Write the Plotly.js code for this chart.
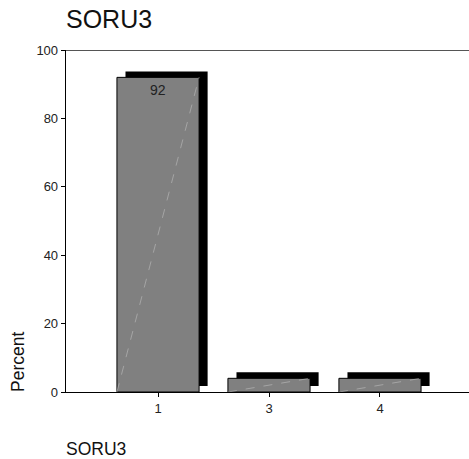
<!DOCTYPE html>
<html>
<head>
<meta charset="utf-8">
<script src="https://cdn.plot.ly/plotly-3.0.1.min.js"></script>
<style>
  html, body { margin: 0; padding: 0; background: #fff; }
  #chart { width: 469px; height: 459px; }
</style>
</head>
<body>
<div id="chart"></div>
<script>
// ---- data ----
const categories = ['1', '3', '4'];
const percents = [92, 4, 4];
const valueLabels = ['92', '', ''];
const yTicks = [0, 20, 40, 60, 80, 100];
const chartTitle = 'SORU3';
const xTitle = 'SORU3';
const yTitle = 'Percent';

// ---- styling ----
const FONT = 'Liberation Sans, Arial, sans-serif';
const barWidth = 0.74;
const depthX = 0.077;   // 3D depth offset along x (category units)
const depthY = 1.75;    // 3D depth offset along y (data units)

const positions = categories.map((c, i) => i);

const traces = [];
// back (shadow) faces
traces.push({
  type: 'bar',
  x: positions,
  y: percents,
  base: percents.map(() => depthY),
  width: barWidth,
  offset: -barWidth / 2 + depthX,
  marker: { color: '#000000', line: { width: 0 } },
  hoverinfo: 'skip',
  showlegend: false
});
// front faces
traces.push({
  type: 'bar',
  x: positions,
  y: percents,
  width: barWidth,
  offset: -barWidth / 2,
  marker: { color: '#808080', line: { color: '#000000', width: 1 } },
  hoverinfo: 'skip',
  showlegend: false
});
// faint diagonal rendering lines on the front faces
positions.forEach((p, i) => {
  traces.push({
    type: 'scatter',
    mode: 'lines',
    x: [p - barWidth / 2, p + barWidth / 2],
    y: [0, percents[i]],
    line: { color: '#b4b4b4', width: 0.7, dash: 'dash' },
    hoverinfo: 'skip',
    showlegend: false
  });
});

const annotations = [];
positions.forEach((p, i) => {
  if (valueLabels[i]) {
    annotations.push({
      x: p, y: percents[i], xref: 'x', yref: 'y',
      text: valueLabels[i], showarrow: false,
      yanchor: 'top', yshift: -3,
      font: { family: FONT, size: 14, color: '#222' }
    });
  }
});
// chart title
annotations.push({
  xref: 'paper', yref: 'paper', x: 0, y: 1,
  xanchor: 'left', yanchor: 'bottom', xshift: -2, yshift: 15,
  text: chartTitle, showarrow: false,
  font: { family: FONT, size: 25, color: '#111' }
});
// x title
annotations.push({
  xref: 'paper', yref: 'paper', x: 0, y: -0.168,
  xanchor: 'left', yanchor: 'middle', xshift: -2,
  text: xTitle, showarrow: false,
  font: { family: FONT, size: 17.5, color: '#111' }
});
// y title
annotations.push({
  xref: 'paper', yref: 'paper', x: 0, y: 0,
  xanchor: 'center', yanchor: 'bottom', xshift: -48, yshift: -2,
  textangle: -90,
  text: yTitle, showarrow: false,
  font: { family: FONT, size: 17.5, color: '#111' }
});

const layout = {
  width: 469, height: 459,
  margin: { l: 66, r: 0, t: 50, b: 67, pad: 0 },
  paper_bgcolor: '#ffffff', plot_bgcolor: '#ffffff',
  barmode: 'overlay',
  showlegend: false,
  xaxis: {
    range: [-0.829, 2.802],
    tickmode: 'array', tickvals: positions, ticktext: categories,
    showgrid: false, zeroline: false,
    showline: true, linecolor: '#000', linewidth: 1,
    ticks: 'outside', ticklen: 4, tickcolor: '#000', tickwidth: 1,
    tickfont: { family: FONT, size: 13, color: '#222' },
    fixedrange: true
  },
  yaxis: {
    range: [0, 100],
    tickmode: 'array', tickvals: yTicks, ticktext: yTicks.map(String),
    showgrid: false, zeroline: false,
    showline: true, linecolor: '#000', linewidth: 1.3,
    ticks: 'outside', ticklen: 4, tickcolor: '#000', tickwidth: 1,
    tickfont: { family: FONT, size: 13, color: '#222' },
    fixedrange: true
  },
  shapes: [{
    type: 'line', xref: 'paper', yref: 'y',
    x0: 0, x1: 1, y0: 100, y1: 100,
    line: { color: '#555', width: 2 }
  }],
  annotations: annotations
};

Plotly.newPlot('chart', traces, layout, { displayModeBar: false, staticPlot: true });
</script>
</body>
</html>
